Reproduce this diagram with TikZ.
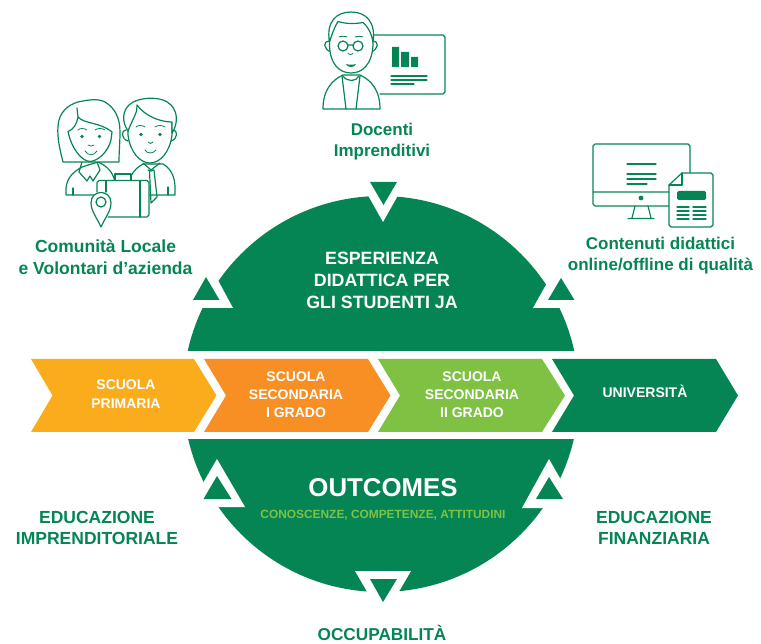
\documentclass[tikz,border=0pt]{standalone}
\usepackage{fontspec}
\setmainfont{Liberation Sans}
\definecolor{jagreen}{HTML}{068554}
\definecolor{jayellow}{HTML}{FBAC1C}
\definecolor{jaorange}{HTML}{F78F24}
\definecolor{jalime}{HTML}{7FC142}
\tikzset{
  wt/.style={text=white,font=\bfseries\fontsize{#1}{#1}\selectfont,align=center,inner sep=0pt},
  gt/.style={text=jagreen,font=\bfseries\fontsize{#1}{#1}\selectfont,align=center,inner sep=0pt},
  icon/.style={draw=jagreen,line width=1.2pt,line join=round,line cap=round,fill=white},
  iconl/.style={draw=jagreen,line width=1.2pt,line join=round,line cap=round},
}
\begin{document}
\begin{tikzpicture}[x=1pt,y=-1pt]
\useasboundingbox (0,0) rectangle (761,644);
% discs
\begin{scope}
\clip (180,190) rectangle (590,350.5);
\fill[jagreen] (381,394) circle[radius=198];
\end{scope}
\begin{scope}
\clip (180,440) rectangle (590,600);
\fill[jagreen] (381,394) circle[radius=198];
\end{scope}
% top cut-outs
\fill[white] (365,190) -- (383,222) -- (401,190) -- cycle;
\fill[white] (206,258) -- (233,308) -- (178,308) -- cycle;
\fill[white] (561,258) -- (533,308) -- (588,308) -- cycle;
\fill[jagreen] (370,182) -- (397,182) -- (383.5,205) -- cycle;
\fill[jagreen] (206,277) -- (219.5,300) -- (193,300) -- cycle;
\fill[jagreen] (561,278) -- (574.5,300) -- (548,300) -- cycle;
% bottom cut-outs
\fill[white] (217,459) -- (245,507) -- (189,507) -- cycle;
\fill[white] (549,459) -- (522,508) -- (577,508) -- cycle;
\fill[white] (355,571) -- (411,571) -- (383,619) -- cycle;
\fill[jagreen] (217,476) -- (231.5,499) -- (203.5,499) -- cycle;
\fill[jagreen] (549,477) -- (563,499) -- (536,499) -- cycle;
\fill[jagreen] (370,579) -- (397,579) -- (383,602) -- cycle;
% chevrons
\fill[jayellow] (31,359) -- (194,359) -- (216.5,395.5) -- (194,432) -- (31,432) -- (52.5,395.5) -- cycle;
\fill[jaorange] (204,359) -- (368,359) -- (390.5,395.5) -- (368,432) -- (204,432) -- (226,395.5) -- cycle;
\fill[jalime] (378,359) -- (542,359) -- (565,395.5) -- (542,432) -- (378,432) -- (400,395.5) -- cycle;
\fill[jagreen] (552,359) -- (716,359) -- (738,395.5) -- (716,432) -- (552,432) -- (574,395.5) -- cycle;
% chevron texts
\node[wt=14] (sp) at (126,394) {SCUOLA\\[4.3pt]PRIMARIA};
\node[wt=14] (ss1) at (296,394.5) {SCUOLA\\[4.3pt]SECONDARIA\\[4.3pt]I GRADO};
\node[wt=14] (ss2) at (472,394.5) {SCUOLA\\[4.3pt]SECONDARIA\\[4.3pt]II GRADO};
\node[wt=14,anchor=base] (uni) at (645,398) {UNIVERSITÀ};
% centre texts
\node[wt=17.8] (esp) at (382,280) {ESPERIENZA\\[4.2pt]DIDATTICA PER\\[4.2pt]GLI STUDENTI JA};
\node[wt=25.8] (out) at (383,488) {OUTCOMES};
\node[text=jalime,font=\bfseries\fontsize{11.9}{12}\selectfont,inner sep=0pt] (sub) at (383,515) {CONOSCENZE, COMPETENZE, ATTITUDINI};
% outer labels
\node[gt=17] (doc) at (382,141.5) {Docenti\\[4.5pt]Imprenditivi};
\node[gt=17.5] (com) at (105.5,257) {Comunità Locale\\[4.5pt]e Volontari d’azienda};
\node[gt=17] (con) at (660.5,255.5) {Contenuti didattici\\[4.5pt]online/offline di qualità};
\node[gt=17.5] (imp) at (97,528) {EDUCAZIONE\\[4pt]IMPRENDITORIALE};
\node[gt=17.5] (fin) at (654,528) {EDUCAZIONE\\[4pt]FINANZIARIA};
\node[gt=17.2,anchor=base] (occ) at (382,640) {OCCUPABILITÀ};
% teacher icon
\draw[iconl] (374,35) -- (443,35) to[out=0,in=-90] (445,37) -- (445,92) to[out=90,in=0] (443,94) -- (380,94);
\fill[jagreen] (392,47) rectangle (399,67) (401,52) rectangle (409,67) (411,57) rectangle (418,67);
\draw[iconl] (391,76) -- (427,76) (391,80) -- (427,80) (391,84) -- (414,84);
\draw[icon] (323,109) .. controls (323,90) and (332,80) .. (343,75) -- (360,75) .. controls (371,80) and (380,90) .. (380,109) -- cycle;
\draw[iconl] (342,76) -- (346,109) (360,76) -- (356,109);
\draw[iconl] (343,76) .. controls (347,82) and (356,82) .. (359,76);
\draw[iconl] (329,41) .. controls (323,41) and (323,49) .. (331,52) (373,41) .. controls (379,41) and (379,49) .. (371,52);
\draw[icon] (329.5,30) -- (329.5,45) .. controls (330,65) and (340,73) .. (351,73) .. controls (362,73) and (372,65) .. (373,45) -- (373,30);
\draw[icon] (329.5,42) .. controls (326,22) and (336,12) .. (351,12) .. controls (366,12) and (376,22) .. (373,42) .. controls (371,32) and (368,27) .. (363,22.5) .. controls (355,24) and (346,24) .. (338,21.5) .. controls (335,26) and (332,34) .. (329.5,42) -- cycle;
\draw[iconl] (343,46) circle[radius=5] (358,46) circle[radius=5] (348,45) -- (353,45);
\draw[iconl,line width=.8pt] (348,53.5) .. controls (349,55) and (352,55) .. (353,53.5);
\draw[iconl,line width=.9pt] (339,37) .. controls (341,36) and (345,36) .. (347,37) (355,37) .. controls (358,36) and (361,36) .. (363,37);
\fill[jagreen] (346,64) .. controls (349,65) and (353,65) .. (356,64) .. controls (355,68) and (347,68) .. (346,64) -- cycle;
% family icon: man
\draw[icon] (131,195) -- (131,176) .. controls (134,170) and (138,167) .. (143,164) -- (163,164) .. controls (170,168) and (175,176) .. (175,187) -- (175,195) -- cycle;
\draw[iconl] (143,163) -- (151,170) -- (160,163);
\draw[iconl] (148,170) -- (151,171) -- (154,170) -- (157,197) -- (151,203) -- (149.5,171);
\draw[iconl] (168,195) -- (168,187);
\draw[iconl] (126,130) .. controls (121,130) and (121,139) .. (128,141) (173,130) .. controls (178,130) and (178,139) .. (171,141);
\draw[icon] (128,120) -- (128,135) .. controls (130,152) and (140,163) .. (150,163) .. controls (160,163) and (170,152) .. (172,135) -- (172,120);
\draw[icon] (128,131) .. controls (122,122) and (122,112) .. (129,105) .. controls (137,97) and (162,95) .. (171,105) .. controls (178,112) and (178,124) .. (172,133) -- (172,122) .. controls (160,122) and (145,116) .. (137,105) .. controls (138,112) and (133,118) .. (128,131) -- cycle;
\fill[jagreen] (141,134.5) circle[radius=1.8] (160,134.5) circle[radius=1.8];
\draw[iconl,line width=.8pt] (136,127) .. controls (138,125) and (142,125) .. (145,127) (155,127) .. controls (158,125) and (162,125) .. (165,127) (148,142) .. controls (149,144) and (152,144) .. (153,142) (145,150) .. controls (147,154) and (153,154) .. (156,150);
% family icon: woman
\draw[icon] (66,195) -- (66,188) .. controls (67,178) and (73,172) .. (82,167) -- (98,162) .. controls (107,166) and (113,172) .. (115,182) -- (97,195) -- cycle;
\draw[iconl] (73,195) -- (73,188);
\draw[iconl] (82,162) -- (79,172) -- (87,181) -- (90,176) -- (93,181) -- (100,170) -- (97,162);
\draw[icon] (63,162) .. controls (60,150) and (57,138) .. (58,126) .. controls (59,112) and (68,105) .. (78,102) .. controls (88,100) and (97,98) .. (105,102) .. controls (115,108) and (120,118) .. (120,132) .. controls (120,142) and (119,152) .. (119,162) -- cycle;
\draw[icon] (68,131.5) .. controls (73,130) and (77,124) .. (78,117) .. controls (84,124) and (100,122) .. (112,132) -- (111,140) .. controls (108,152) and (98,161) .. (90,161.5) .. controls (82,161) and (72,150) .. (68,131.5) -- cycle;
\draw[iconl] (77,108) -- (78,117);
\fill[jagreen] (82,136.5) circle[radius=1.8] (99.5,136.5) circle[radius=1.8];
\draw[iconl,line width=.8pt] (78,130) .. controls (80,128) and (84,128) .. (87,130) (95,130) .. controls (98,128) and (102,128) .. (105,130) (88,145) .. controls (90,146.5) and (92,146.5) .. (94,145) (85,151) .. controls (88,156) and (94,156) .. (97,151);
% family icon: case and pin
\draw[icon] (115,180) -- (115,174) -- (131,174) -- (131,180);
\draw[icon] (97,192) -- (97,182.5) to[out=-90,in=180] (99,180.5) -- (147,180.5) to[out=0,in=-90] (149,182.5) -- (149,215) to[out=90,in=0] (147,217) -- (108,217);
\draw[iconl] (140,181) -- (140,217) (106,181) -- (106,192);
\draw[icon] (101,227) .. controls (97,218) and (91,211) .. (91,203) .. controls (91,189) and (111,189) .. (111,203) .. controls (111,211) and (105,218) .. (101,227) -- cycle;
\draw[iconl] (101,202) circle[radius=5];
% monitor icon
\draw[iconl] (595,144) -- (688,144) to[out=0,in=-90] (690,146) -- (690,176) (669,206) -- (595,206) to[out=180,in=90] (593,204) -- (593,146) to[out=-90,in=180] (595,144) (593,192) -- (669,192);
\draw[iconl] (627,164) -- (656,164) (627,174) -- (656,174) (627,179) -- (656,179) (627,184) -- (647,184);
\fill[jagreen] (641,198) circle[radius=2.4];
\draw[iconl] (635,206) -- (632,218) (648,206) -- (651,218) (628,218.5) -- (654,218.5);
\draw[icon] (669,185) -- (682,173) -- (711,173) to[out=0,in=-90] (713,175) -- (713,225) to[out=90,in=0] (711,227) -- (671,227) to[out=180,in=90] (669,225) -- cycle;
\draw[iconl] (682,173) -- (682,185) -- (669,185);
\fill[jagreen,rounded corners=1.5pt] (677,191) rectangle (706,200);
\draw[iconl] (677,207) -- (689,207) (693,207) -- (706,207) (677,211) -- (689,211) (693,211) -- (706,211) (677,215) -- (689,215) (693,215) -- (706,215) (677,219) -- (689,219) (693,219) -- (706,219);
\end{tikzpicture}
\end{document}
